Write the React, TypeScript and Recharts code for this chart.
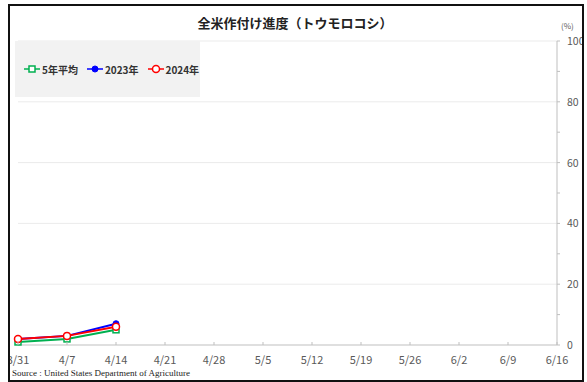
import React from "react";
import { CartesianGrid, Line, LineChart, XAxis, YAxis } from "recharts";

const dates = ["3/31", "4/7", "4/14", "4/21", "4/28", "5/5", "5/12", "5/19", "5/26", "6/2", "6/9", "6/16"];
const avg5 = [1, 2, 5];
const y2023 = [2, 3, 7];
const y2024 = [2, 3, 6];
const yTicks = [0, 10, 20, 30, 40, 50, 60, 70, 80, 90, 100];

const data = dates.map((d, i) => ({
  date: d,
  avg: avg5[i] ?? null,
  y23: y2023[i] ?? null,
  y24: y2024[i] ?? null,
}));

const SERIES = [
  { key: "avg", name: "5年平均", color: "#00b050", marker: "square" },
  { key: "y23", name: "2023年", color: "#0000ff", marker: "filled" },
  { key: "y24", name: "2024年", color: "#ff0000", marker: "hollow" },
];

const JP = '"Noto Sans CJK JP", "Noto Sans", sans-serif';

const Marker = ({ kind, color, cx, cy }: { kind: string; color: string; cx: number; cy: number }) => {
  if (kind === "square") return <rect x={cx - 3} y={cy - 3} width={6} height={6} fill="#fff" stroke={color} strokeWidth={1.5} />;
  if (kind === "filled") return <circle cx={cx} cy={cy} r={3} fill={color} stroke={color} strokeWidth={1} />;
  return <circle cx={cx} cy={cy} r={3.5} fill="#fff" stroke={color} strokeWidth={1.5} />;
};

const makeDot = (kind: string, color: string) => (props: any) => {
  const { cx, cy, index, value } = props;
  if (value == null || cx == null || cy == null) return <g key={index} />;
  return (
    <g key={index}>
      <Marker kind={kind} color={color} cx={cx} cy={cy} />
    </g>
  );
};

const XTick = (props: any) => {
  const { x, y, payload } = props;
  return (
    <g>
      <line x1={x} x2={x} y1={y - 3} y2={y} stroke="#bfbfbf" />
      <text x={x} y={y + 19} textAnchor="middle" fontSize={11} fill="#595959" fontFamily={JP}>
        {payload.value}
      </text>
    </g>
  );
};

const YTick = (props: any) => {
  const { x, y, payload } = props;
  if (payload.value % 20 !== 0) return <g />;
  return (
    <text x={x} y={y + 4} textAnchor="start" fontSize={10.5} fill="#595959" fontFamily={JP}>
      {payload.value}
    </text>
  );
};

const LegendBox = () => (
  <div
    style={{
      position: "absolute",
      left: 15,
      top: 41,
      width: 185,
      height: 56,
      background: "#f2f2f2",
      display: "flex",
      alignItems: "center",
      paddingLeft: 9,
      boxSizing: "border-box",
      fontFamily: JP,
      fontSize: 10,
      fontWeight: 600,
      color: "#333",
      whiteSpace: "nowrap",
    }}
  >
    {SERIES.map((s) => (
      <div key={s.key} style={{ display: "flex", alignItems: "center", marginRight: 9 }}>
        <svg width={16} height={10} style={{ marginRight: 2 }}>
          <line x1={0} x2={16} y1={5} y2={5} stroke={s.color} strokeWidth={1.5} />
          <Marker kind={s.marker} color={s.color} cx={8} cy={5} />
        </svg>
        <span>{s.name}</span>
      </div>
    ))}
  </div>
);

export default function App() {
  return (
    <div
      style={{
        position: "absolute",
        left: 8,
        top: 4,
        width: 576,
        height: 378,
        border: "2px solid #111",
        boxSizing: "border-box",
        overflow: "hidden",
        background: "#fff",
      }}
    >
      <div style={{ position: "absolute", left: -10, top: -6, width: 587, height: 382 }}>
        <div
          style={{
            position: "absolute",
            left: 0,
            width: 590,
            top: 13,
            textAlign: "center",
            fontFamily: JP,
            fontSize: 13,
            fontWeight: 700,
            color: "#222",
          }}
        >
          全米作付け進度（トウモロコシ）
        </div>
        <div style={{ position: "absolute", left: 561, top: 20, fontFamily: JP, fontSize: 8, color: "#595959" }}>(%)</div>
        <LineChart width={587} height={382} data={data} margin={{ top: 41, right: 0, left: 18, bottom: 0 }}>
          <CartesianGrid vertical={false} horizontalValues={[20, 40, 60, 80, 100]} stroke="#ebebeb" />
          <XAxis
            dataKey="date"
            height={37}
            interval={0}
            tickSize={0}
            tickMargin={0}
            tick={<XTick />}
            axisLine={{ stroke: "#bfbfbf" }}
            tickLine={false}
          />
          <YAxis
            orientation="right"
            width={30}
            domain={[0, 100]}
            ticks={yTicks}
            interval={0}
            tickSize={3}
            tickMargin={7}
            tick={<YTick />}
            axisLine={{ stroke: "#bfbfbf" }}
            tickLine={{ stroke: "#bfbfbf" }}
          />
          {SERIES.map((s) => (
            <Line
              key={s.key}
              dataKey={s.key}
              name={s.name}
              stroke={s.color}
              strokeWidth={2}
              dot={makeDot(s.marker, s.color)}
              activeDot={false}
              isAnimationActive={false}
            />
          ))}
        </LineChart>
        <LegendBox />
        <div
          style={{
            position: "absolute",
            left: 12,
            top: 368,
            fontFamily: '"Liberation Serif", serif',
            fontSize: 9,
            color: "#222",
            whiteSpace: "nowrap",
          }}
        >
          Source : United States Department of Agriculture
        </div>
      </div>
    </div>
  );
}
